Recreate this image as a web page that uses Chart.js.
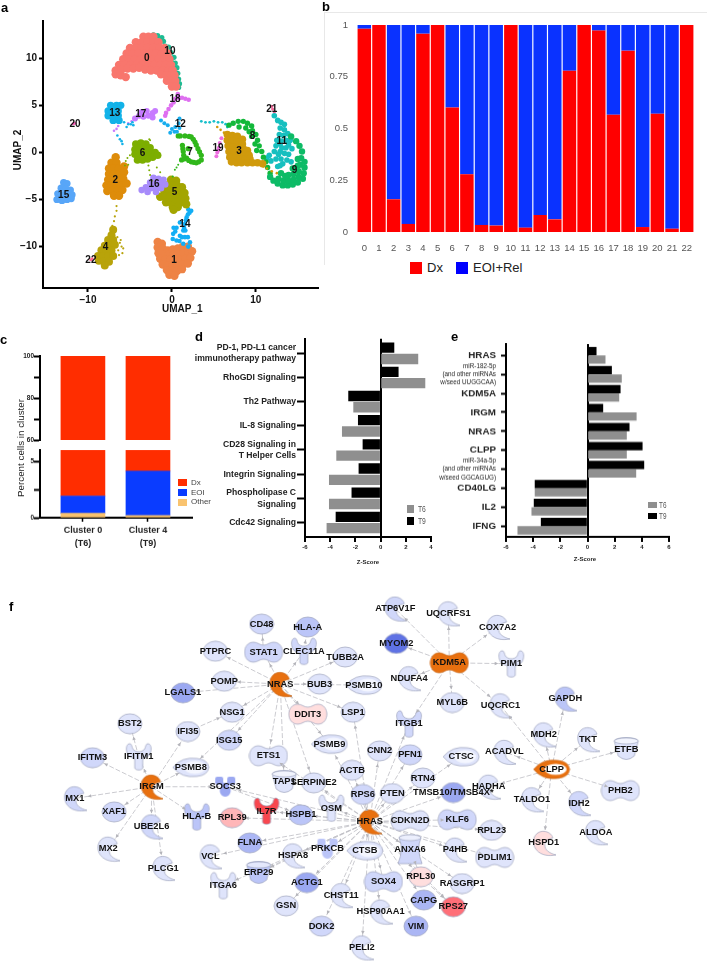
<!DOCTYPE html>
<html><head><meta charset="utf-8">
<script src="https://cdn.jsdelivr.net/npm/chart.js@4"></script>
<style>
html,body{margin:0;padding:0;background:#fff;width:707px;height:968px;overflow:hidden;font-family:"Liberation Sans",Arial,sans-serif}
#page{position:relative;width:707px;height:968px;overflow:hidden}
canvas{position:absolute;display:block}
.t{position:absolute;white-space:nowrap;line-height:1}
.s{position:absolute}
.p{font-weight:bold;font-size:13px;color:#000}
</style></head><body><div id="page"></div>
<script>
/* ---------- panel a : UMAP ---------- */
const umapLabels=[['0',-3,10],['10',-.24,10.7],['18',.36,5.6],['21',11.9,4.54],['13',-6.8,4.2],['17',-3.7,4.09],['12',1,3],['20',-11.55,3.04],['8',9.6,1.75],['11',13.1,1.19],['19',5.5,.42],['3',8,.17],['7',2.16,.07],['6',-3.49,-.14],['9',14.6,-1.85],['2',-6.75,-3],['16',-2.14,-3.43],['5',.32,-4.2],['15',-12.9,-4.6],['14',1.55,-7.6],['4',-7.9,-10.1],['22',-9.65,-11.4],['1',.24,-11.5]];
const c0=[[-3.4,12.3],[-2.8,12.3],[-2.2,12.3],[-4.3,11.7],[-3.6,11.7],[-2.9,11.7],[-2.2,11.7],[-1.6,11.7],[-5,11.1],[-4.3,11.1],[-3.6,11.1],[-2.9,11.1],[-2.2,11.1],[-1.5,11.1],[-.9,11.1],[-5.4,10.5],[-4.7,10.5],[-4,10.5],[-3.3,10.5],[-2.6,10.5],[-1.9,10.5],[-1.2,10.5],[-.5,10.5],[-5.8,9.9],[-5.1,9.9],[-4.4,9.9],[-3.7,9.9],[-3,9.9],[-2.3,9.9],[-1.6,9.9],[-.9,9.9],[-.3,9.9],[-6.3,9.3],[-5.6,9.3],[-4.9,9.3],[-4.2,9.3],[-3.5,9.3],[-2.8,9.3],[-2.1,9.3],[-1.4,9.3],[-.7,9.3],[-.1,9.3],[-6.7,8.7],[-6,8.8],[-5.3,8.9],[-4.6,8.9],[-3.9,9],[-3.2,8.8],[-2.5,8.7],[-1.8,8.7],[-1.1,8.7],[-.4,8.7],[.1,8.7],[-6.7,8.3],[-6.1,8.2],[-5.5,8],[-1.3,8.3],[-.7,8.2],[-.1,8.2],[.3,8.2],[-.6,7.6],[-.1,7.6],[.4,7.6],[0,7],[.5,7]];
const c10=[[-2.2,12.5],[-1.7,12.4],[-1.2,12.2],[-1.5,11.9],[-1,11.8],[-.8,11.3],[-.4,11.2],[-.4,10.7],[-.1,10.6],[0,10],[.25,10.1],[.1,9.5],[.4,9.5],[.3,9],[.6,9],[.4,8.5],[.7,8.4],[.5,8],[.8,7.8],[.6,7.4],[.9,7.3],[.8,6.9]];
const c18=[[2,5.6],[1.6,5.7],[1.2,5.8],[.8,5.8],[.4,5.7],[.7,6.2],[.2,5.3],[-.1,5],[-.4,4.6],[-.7,4.2],[-.8,3.9]];
const c13=[[-7.3,5],[-6.6,5],[-6.1,5],[-7.6,4.4],[-7,4.4],[-6.4,4.4],[-7.6,3.9],[-7,3.8],[-6.4,3.9],[-7,3.4],[-6.3,3.4]];
const t13=[[-5.7,3.2],[-5.2,3],[-4.9,3],[-4.6,2.9],[-4.7,3.2],[-6.5,1.8],[-6.2,1.4],[-6,1.2],[-5.9,.9],[-5.4,2.7]];
const c17=[[-4.4,3.6],[-3.9,3.9],[-3.6,4.3],[-3,4.4],[-3.4,3.8],[-2.8,3.9],[-2.3,4.2],[-2,4.4],[-2.3,3.7]];
const t17=[[-4.8,3.3],[-5.2,3.1],[-6.6,2.5],[-6.9,2.3],[-6.4,2.8]];
const c12=[[.9,3.6],[.8,3.1],[.9,2.6],[.4,2.7],[0,2.5],[.3,2.2],[-.2,2.1],[.6,2.2],[-.5,2.9],[-.9,3.1],[-1.3,3.4]];
const c7=[[.75,1.75],[1.55,1.75],[2.3,1.65],[2.75,1.1],[3.1,.4],[3.5,-.3],[3.5,-.8],[2.9,-1.1],[2.3,-1],[1.75,-.6],[1.15,-.8],[1.35,.1],[1.25,.75],[1.95,.4],[2.05,1.7],[1,1.75],[2.55,1.4],[2.9,.8],[3.3,.05],[3.2,-1],[2.6,-1.05],[2,-.85],[1.45,-.7],[1.3,.4],[1.4,-.3]];
const t7=[[.75,-1.3],[.35,-1.85],[.1,-2.55],[.55,-1.6]];
const c6=[[-4.3,.9],[-3.7,1],[-3.1,.9],[-4.4,.3],[-3.8,.4],[-3.2,.4],[-2.6,.5],[-4.4,-.2],[-3.8,-.2],[-3.2,-.2],[-2.6,-.1],[-2,0],[-4.1,-.8],[-3.5,-.8],[-2.9,-.7],[-2.3,-.5],[-1.7,-.3]];
const t6=[[-5,-.3],[-5.3,-.6],[-5.5,-.9],[-5.6,-1.4],[-5.2,-1.3],[-2.6,1.3],[-2.7,1.4],[-1.6,-.2],[-1.5,-.3],[-2.8,-1.4],[-2.7,-1.9],[-2.6,-2.4],[-2.4,-3],[-1.8,-1.6],[-1.4,-2.1]];
const c2=[[-6.7,-.5],[-7.2,-1.1],[-6.6,-1.1],[-7.5,-1.7],[-6.9,-1.7],[-6.3,-1.7],[-5.7,-1.5],[-7.5,-2.3],[-6.9,-2.3],[-6.3,-2.3],[-5.7,-2.1],[-7.6,-2.9],[-7,-2.9],[-6.4,-2.9],[-5.8,-2.8],[-7.8,-3.5],[-7.2,-3.5],[-6.6,-3.5],[-6,-3.5],[-5.4,-3.3],[-7.7,-4.1],[-7.1,-4.1],[-6.5,-4.1],[-5.9,-4],[-6.9,-4.6],[-6.3,-4.6]];
const c15=[[-12.9,-3.2],[-12.5,-3.3],[-13.2,-3.8],[-12.6,-3.9],[-12.1,-4],[-13.6,-4.4],[-13,-4.5],[-12.4,-4.5],[-11.9,-4.5],[-13.7,-5],[-13.1,-5.1],[-12.5,-5],[-12,-4.9]];
const c16=[[-2.2,-2.7],[-1.6,-2.8],[-1,-2.9],[-2.6,-3.2],[-2,-3.3],[-1.4,-3.3],[-.8,-3.4],[-3.1,-3.7],[-2.5,-3.8],[-1.9,-3.8],[-1.3,-3.8],[-3.6,-4],[-2.9,-4.2],[-1.9,-4.2]];
const c5=[[-.1,-2.9],[.5,-3],[-.6,-3.5],[0,-3.5],[.6,-3.5],[1.2,-3.7],[-.9,-4.1],[-.3,-4.1],[.3,-4.1],[.9,-4.1],[1.5,-4.3],[-1.4,-4.7],[-.8,-4.7],[-.2,-4.7],[.4,-4.7],[1,-4.7],[1.6,-4.9],[-.7,-5.3],[-.1,-5.3],[.5,-5.3],[1.1,-5.3],[1.7,-5.5],[.1,-5.8],[.7,-5.8],[.2,-6.1]];
const c14=[[1.95,-6.05],[2.1,-6.4],[1.75,-6.9],[1.55,-7.6],[1.35,-8.3],[.55,-8],[.15,-8.65],[.95,-8.85],[1.55,-9],[.55,-9.35],[2.15,-9.55],[1.35,-9.7],[1.95,-10],[.2,-8],[2.3,-6.2],[.95,-7.45],[1.6,-8.3],[.9,-9.4],[1.9,-9],[1.9,-6.6],[1.65,-7.2],[1.45,-8],[.4,-8.4],[.1,-9.2],[1.2,-9]];
const c1=[[-1.7,-9.5],[-1.2,-9.7],[-1.7,-10.1],[-1.1,-10.2],[-.5,-10.4],[.1,-10.3],[.7,-10.2],[1.3,-10],[1.9,-10],[-1.6,-10.7],[-1,-10.8],[-.4,-10.9],[.2,-10.9],[.8,-10.8],[1.4,-10.7],[2,-10.6],[2.4,-10.5],[-1.4,-11.3],[-.8,-11.4],[-.2,-11.4],[.4,-11.4],[1,-11.4],[1.6,-11.3],[2.2,-11.2],[-1.1,-11.9],[-.5,-12],[.1,-12],[.7,-12],[1.3,-11.9],[1.9,-11.8],[-.6,-12.5],[0,-12.6],[.6,-12.6],[1.2,-12.4],[-.3,-13],[.3,-13.1]];
const c4=[[-7,-8.2],[-7.2,-8.8],[-7.6,-9.3],[-7,-9.3],[-8,-9.9],[-7.4,-9.9],[-6.8,-9.8],[-8.4,-10.4],[-7.8,-10.5],[-7.2,-10.4],[-8.8,-11],[-8.2,-11],[-7.6,-11],[-7,-11],[-8.7,-11.5],[-8.1,-11.6],[-7.5,-11.6],[-8,-12]];
const t4=[[-6.6,-5.7],[-6.6,-6.2],[-6.8,-6.8],[-6.9,-7.3],[-7.1,-7.8],[-6.5,-9],[-6.2,-9.6],[-6,-10],[-5.8,-10.2],[-5.9,-10.7],[-6.3,-10.9],[-6.1,-9.3],[-6.4,-10.4]];
const c3=[[6.6,1.9],[7.2,1.8],[7.8,1.7],[8.4,1.4],[6.6,1.3],[7.2,1.2],[7.8,1.1],[8.4,.9],[6.7,.7],[7.3,.6],[7.9,.5],[8.5,.4],[9,.2],[6.8,.1],[7.4,0],[8,-.1],[8.6,-.2],[9.2,-.3],[6.9,-.5],[7.5,-.6],[8.1,-.7],[8.7,-.7],[9.3,-.7],[7.1,-1],[7.7,-1.1],[8.3,-1.1],[9,-1.1],[9.6,-1.1],[10.2,-1.1],[10.8,-1.2]];
const t3=[[5.4,2.7],[5.8,2.4],[6.2,2.1],[10.9,-1.5],[11.3,-1.7],[11.9,-2],[12.5,-2.2]];
const c8=[[6.8,2.9],[7.3,3.1],[7.9,3.3],[8.5,3.3],[9,3.1],[9.5,2.8],[8,2.7],[8.8,2.6],[9.6,2.3],[10,1.9],[9.5,1.7],[10.2,1.3],[10.4,.7],[9.9,.9],[10.7,.1],[10.9,-.5],[11.2,-1],[11.4,-1.6],[11.7,-2.2],[9.2,2.2],[10.1,.2]];
const c9=[[11.7,-2.6],[12.1,-3],[12.6,-3.3],[13.2,-3.5],[13.8,-3.5],[14.4,-3.4],[15,-3.2],[15.6,-2.8],[12.7,-2.8],[13.3,-3],[13.9,-3],[14.5,-2.9],[15.1,-2.6],[15.7,-2.2],[13.9,-2.4],[14.5,-2.3],[15.1,-2],[15.8,-1.6],[14.4,-1.7],[15,-1.4],[15.8,-1],[15.4,-.6],[15.5,.1],[15.2,.7],[14.8,1.2],[14.2,1.7],[13,-2.2],[13.5,-2.5],[15.3,-1.3],[15,-.7]];
const c11=[[12.2,3.9],[12.6,3.4],[13,3.2],[13.4,3],[12.9,2.6],[13.4,2.4],[12.8,1.9],[13.3,1.8],[13.8,2],[12.5,1.3],[13,1.2],[13.6,1.3],[14.1,1.3],[12.4,.7],[13.1,.5],[13.6,.5],[14.3,.4],[13.4,-.1],[13.9,-.2],[12.2,.1],[11.6,-.3],[11.3,-.6],[13.7,-.8],[14.2,-1],[12.4,-.7],[11.8,-.9],[12.6,-1.5],[12.9,.1],[12.7,-.2],[13,-.7],[13.2,-1.2],[13.9,.8],[12.9,-1.4],[12.9,.9]];
const t11=[[3.5,3.3],[4,3.2],[4.5,3.2],[5,3.3],[5.5,3.2],[6,3.2],[6.4,3],[6.6,2.7]];
const c19=[[5.9,1.5],[5.7,1],[5.6,.5],[5.4,0],[5.3,-.4],[5.5,.2]];
const c20=[[-11.75,3.05],[-11.6,3.1]];
const c21=[[12,4.6],[12.2,4.3],[11.9,4.9]];
const c22=[[-9.65,-11.4],[-9.5,-11.3]];
const umapGroups=[[c13,'#12B2E8',3.7],[t13,'#12B2E8',1.3],[c0,'#F8766D',4.2],[c10,'#1DBB93',2.6],[c18,'#DE6FF0',2.3],[c17,'#C77CFF',3],[t17,'#C77CFF',1.3],[c12,'#17ADEE',2],[c7,'#30B71B',2.6],[t7,'#30B71B',1],[c6,'#7CAE00',3.8],[t6,'#7CAE00',1],[c2,'#DE8C0A',4.2],[c15,'#58A6F8',3.6],[c16,'#A78BFA',3.3],[c5,'#A3A500',4.2],[c14,'#12AEF5',2.3],[c1,'#EE8345',4.2],[c4,'#B8A30A',4],[t4,'#B8A30A',1.1],[c3,'#D09A0C',3.8],[t3,'#D09A0C',1.3],[c9,'#0DBB66',3.2],[c8,'#12B83A',2.7],[c11,'#17BFBF',2.8],[t11,'#17BFCB',1.4],[c19,'#EE6EE0',2],[c20,'#FF62BC',1.6],[c21,'#F0699A',1.6],[c22,'#FF6C91',1.6]];
const umapXTicks=[-10,0,10], umapYTicks=[-10,-5,0,5,10];

/* ---------- panel b ---------- */
const clusters=['0','1','2','3','4','5','6','7','8','9','10','11','12','13','14','15','16','17','18','19','20','21','22'];
const dxShare=[.982,1,.158,.039,.958,1,.602,.279,.034,.031,1,.021,.082,.061,.779,1,.973,.566,.876,.024,.571,.016,1];
const relShare=[.018,0,.842,.961,.042,0,.398,.721,.966,.969,0,.979,.918,.939,.221,0,.027,.434,.124,.976,.429,.984,0];
const shareTicks=[0,.25,.5,.75,1];

/* ---------- panel c ---------- */
const cCategories=[['Cluster 0','(T6)'],['Cluster 4','(T9)']];
const cOther=[.4,.2], cEOI=[1.53,3.94], cDx=[98.07,95.86];

/* ---------- panel d ---------- */
const dPathways=[['PD-1, PD-L1 cancer','immunotherapy pathway'],'RhoGDI Signaling','Th2 Pathway','IL-8 Signaling',['CD28 Signaling in','T Helper Cells'],'Integrin Signaling',['Phospholipase C','Signaling'],'Cdc42 Signaling'];
const dT9=[1.06,1.4,-2.54,-1.77,-1.4,-1.72,-2.28,-3.54];
const dT6=[2.96,3.52,-2.14,-3.04,-3.49,-4.07,-4.07,-4.26];
const dXTicks=[-6,-4,-2,0,2,4];

/* ---------- panel e ---------- */
const eRegulators=['HRAS',['miR-182-5p','(and other miRNAs','w/seed UUGGCAA)'],'KDM5A','IRGM','NRAS','CLPP',['miR-34a-5p','(and other miRNAs','w/seed GGCAGUG)'],'CD40LG','IL2','IFNG'];
const eT9=[.64,1.77,2.41,1.13,3.07,4.03,4.15,-3.86,-3.93,-3.41];
const eT6=[1.3,2.5,2.31,3.59,2.87,2.87,3.56,-3.86,-4.1,-5.13];
const eXTicks=[-6,-4,-2,0,2,4,6];

/* ---------- panel f : network ---------- */
const netNodes=[['CD48',260,619,'e','l'],['HLA-A',307,622,'e','m'],['STAT1',262,648,'p','l'],['CLEC11A',303,647,'y','l'],['TUBB2A',345,653,'e','p'],['PTPRC',213,647,'e','p'],['POMP',222,678,'e','p'],['NRAS',279,681,'c','o'],['BUB3',319,681,'e','p'],['PSMB10',364,682,'n','p'],['LGALS1',180,690,'e','d'],['NSG1',230,710,'e','p'],['DDIT3',307,712,'p','k'],['LSP1',353,710,'e','p'],['BST2',126,722,'e','p'],['IFI35',185,730,'e','p'],['ISG15',227,739,'e','l'],['IFITM3',88,757,'e','l'],['IFITM1',135,756,'y','p'],['ETS1',267,755,'p','p'],['PSMB9',329,743,'n','p'],['ACTB',352,770,'e','p'],['PSMB8',188,767,'n','p'],['IRGM',148,787,'c','o'],['SOCS3',223,787,'x','d'],['TAP1',283,782,'u','p'],['SERPINE2',313,783,'e','p'],['RPS6',363,795,'e','l'],['OSM',331,809,'y','p'],['MX1',70,799,'c','l'],['XAF1',110,813,'e','l'],['UBE2L6',148,828,'c','l'],['HLA-B',194,818,'y','m'],['RPL39',230,819,'e','r'],['IL7R',265,812,'y','I'],['HSPB1',300,816,'e','m'],['HRAS',370,823,'c','o'],['FLNA',248,845,'e','f'],['PRKCB',327,851,'x','m'],['MX2',104,851,'c','p'],['VCL',208,859,'c','p'],['HSPA8',292,858,'c','p'],['CTSB',365,853,'n','p'],['PLCG1',160,871,'c','p'],['ERP29',257,876,'u','m'],['ITGA6',221,889,'y','p'],['ACTG1',306,886,'e','d'],['CHST11',341,899,'c','p'],['GSN',285,910,'e','p'],['HSP90AA1',381,916,'c','p'],['DOK2',321,931,'e','l'],['PELI2',362,953,'c','p'],['ATP6V1F',396,603,'c','l'],['UQCRFS1',450,608,'c','p'],['COX7A2',500,622,'c','p'],['MYOM2',397,639,'e','D'],['KDM5A',451,659,'p','o'],['PIM1',514,660,'y','p'],['NDUFA4',410,675,'c','p'],['MYL6B',454,700,'e','p'],['UQCRC1',503,703,'c','p'],['GAPDH',569,696,'c','m'],['ITGB1',410,722,'y','l'],['MDH2',547,733,'c','p'],['TKT',592,738,'c','p'],['ETFB',631,748,'u','p'],['CNN2',380,750,'e','p'],['PFN1',411,754,'e','l'],['CTSC',463,756,'n','p'],['ACADVL',507,751,'c','p'],['CLPP',555,769,'n','o'],['RTN4',424,778,'e','p'],['HADHA',491,787,'c','p'],['PTEN',393,794,'e','p'],['TMSB10/TMSB4X*',455,793,'e','d'],['TALDO1',535,800,'c','p'],['PHB2',625,791,'p','p'],['IDH2',583,804,'c','l'],['CDKN2D',411,822,'p','p'],['KLF6',459,821,'p','l'],['RPL23',494,832,'e','p'],['ANXA6',411,852,'h','l'],['P4HB',457,852,'c','p'],['PDLIM1',497,860,'p','p'],['ALDOA',600,834,'c','p'],['HSPD1',547,845,'c','k'],['SOX4',384,885,'p','l'],['RPL30',422,880,'e','k'],['RASGRP1',464,887,'e','p'],['CAPG',425,904,'e','f'],['RPS27',455,911,'e','R'],['VIM',417,931,'e','f']];
const netEdges={
 NRAS:['STAT1','CLEC11A','TUBB2A','PTPRC','POMP','BUB3','PSMB10','LGALS1','NSG1','DDIT3','LSP1','ISG15','ETS1','PSMB9','TAP1','SERPINE2','PSMB8'],
 STAT1:['CD48'],CLEC11A:['HLA-A'],IFI35:['NSG1'],IFITM1:['BST2'],
 IRGM:['IFITM3','IFITM1','IFI35','PSMB8','SOCS3','HLA-B','MX1','XAF1','UBE2L6','MX2','PLCG1'],
 KDM5A:['ATP6V1F','UQCRFS1','COX7A2','MYOM2','PIM1','NDUFA4','MYL6B','UQCRC1','ITGB1'],
 CLPP:['GAPDH','UQCRC1','MDH2','TKT','ETFB','ACADVL','HADHA','TALDO1','IDH2','PHB2','HSPD1'],
 HRAS:['SOCS3','IL7R','HSPB1','RPL39','OSM','SERPINE2','ETS1','ACTB','PSMB9','RPS6','LSP1','CNN2','PFN1','ITGB1','RTN4','PTEN','CTSC','TMSB10/TMSB4X*','CDKN2D','KLF6','RPL23','P4HB','PDLIM1','ANXA6','RPL30','RASGRP1','CAPG','RPS27','VIM','SOX4','CTSB','HSP90AA1','PELI2','DOK2','GSN','CHST11','ACTG1','PRKCB','HSPA8','FLNA','VCL','ERP29','ITGA6'],
 ANXA6:['RPL30'],RPL30:['RPS27'],HSPA8:['ERP29'],SOCS3:['HSPB1']
};
const tintColors={p:'#DFE4FB',l:'#D0D7FA',m:'#BBC5F8',f:'#ABB6F4',d:'#9BA8F1',D:'#5F72E4',k:'#FFDEDE',r:'#FFB6B8',R:'#FF6F78',I:'#F8474F',o:'#E8700F'};

/* ---------- helpers ---------- */
Chart.defaults.font.family='"Liberation Sans",Arial,sans-serif';
Chart.defaults.animation=false;
const page=document.getElementById('page');
function text(s,x,y,css){const d=document.createElement('div');d.className='t';d.textContent=s;d.style.left=x+'px';d.style.top=y+'px';d.style.cssText+=';'+(css||'');page.appendChild(d);return d;}
function swatch(x,y,w,h,c){const d=document.createElement('div');d.className='s';d.style.cssText=`left:${x}px;top:${y}px;width:${w}px;height:${h}px;background:${c}`;page.appendChild(d);}
function plotChart(area,m,cfg){
 const c=document.createElement('canvas');
 const W=area[2]-area[0]+m[0]+m[2],H=area[3]-area[1]+m[1]+m[3];
 c.width=W;c.height=H;c.style.cssText=`left:${area[0]-m[0]}px;top:${area[1]-m[1]}px;width:${W}px;height:${H}px`;
 page.appendChild(c);
 cfg.options=cfg.options||{};
 cfg.options.responsive=false;cfg.options.maintainAspectRatio=false;cfg.options.animation=false;
 cfg.options.layout={padding:{left:0,top:m[1],right:m[2],bottom:0}};
 cfg.options.plugins=Object.assign({legend:{display:false},tooltip:{enabled:false}},cfg.options.plugins||{});
 const sc=cfg.options.scales||{};
 if(sc.y&&sc.y.display!==false)sc.y.afterFit=s=>{s.width=m[0]};
 if(sc.x&&sc.x.display!==false)sc.x.afterFit=s=>{s.height=m[3]};
 return new Chart(c,cfg);
}
const axisGrid=(len,w)=>({drawOnChartArea:false,offset:false,tickLength:len,tickWidth:w,tickColor:'#000'});
const spine=w=>({display:true,color:'#000',width:w});
const setTicks=v=>s=>{s.ticks=v.map(value=>({value}))};
const pts=a=>a.map(p=>({x:p[0],y:p[1]}));
const dataLabels={id:'dataLabels',afterDatasetsDraw(ch,_a,o){const g=ch.ctx;g.save();g.font=o.font;g.fillStyle=o.color;g.textAlign='center';g.textBaseline='middle';
 o.items.forEach(i=>g.fillText(i[0],ch.scales.x.getPixelForValue(i[1]),ch.scales.y.getPixelForValue(i[2])));g.restore();}};
const edgeArrows={id:'edgeArrows',afterDatasetsDraw(ch){const g=ch.ctx,X=ch.scales.x,Y=ch.scales.y;g.save();g.fillStyle='#B4B4BA';
 Object.keys(netEdges).forEach(a=>netEdges[a].forEach(b=>{const p=nodeByName[a],q=nodeByName[b],ax=X.getPixelForValue(p[1]),ay=Y.getPixelForValue(p[2]),bx=X.getPixelForValue(q[1]),by=Y.getPixelForValue(q[2]),t=Math.atan2(by-ay,bx-ax),r=13,hx=bx-r*Math.cos(t),hy=by-r*Math.sin(t);
  g.beginPath();g.moveTo(hx,hy);g.lineTo(hx-4*Math.cos(t-.45),hy-4*Math.sin(t-.45));g.lineTo(hx-4*Math.cos(t+.45),hy-4*Math.sin(t+.45));g.closePath();g.fill();}));g.restore();}};

/* ---------- a ---------- */
plotChart([43,17,319,288],[30,4,4,26],{type:'scatter',
 data:{datasets:umapGroups.map(g=>({data:pts(g[0]),backgroundColor:g[1],pointRadius:g[2],borderWidth:0}))},
 plugins:[dataLabels],
 options:{plugins:{dataLabels:{items:umapLabels,font:'bold 10px "Liberation Sans"',color:'#111'}},
 scales:{x:{type:'linear',min:-15.36,max:17.5,afterBuildTicks:setTicks(umapXTicks),grid:axisGrid(4,2),border:spine(2),
   ticks:{padding:2,color:'#111',font:{size:10,weight:'bold'},callback:v=>String(v).replace('-','\u2212'),maxRotation:0}},
  y:{min:-14.4,max:13.96,afterBuildTicks:setTicks(umapYTicks),grid:axisGrid(4,2),border:spine(2),
   ticks:{padding:2,color:'#111',font:{size:10,weight:'bold'},callback:v=>String(v).replace('-','\u2212')}}}}});
text('UMAP_1',162,304,'font-size:10px;font-weight:bold;color:#111');
text('UMAP_2',18,150,'font-size:10px;font-weight:bold;color:#111;transform:translate(-50%,-50%) rotate(-90deg)');

/* ---------- b ---------- */
const frame=document.createElement('div');frame.className='s';frame.style.cssText='left:324px;top:12px;width:383px;height:252px;border-left:1px solid #e8e8e8;border-top:1px solid #e8e8e8';page.appendChild(frame);
plotChart([356.5,25,694,232],[30,8,8,28],{type:'bar',
 data:{labels:clusters,datasets:[{label:'Dx',data:dxShare,backgroundColor:'#FF0000'},{label:'EOI+Rel',data:relShare,backgroundColor:'#0A32FF'}]},
 options:{datasets:{bar:{categoryPercentage:1,barPercentage:.92}},scales:{
  x:{stacked:true,grid:{display:false},border:{display:false},ticks:{color:'#555',font:{size:9.5},padding:3,autoSkip:false,maxRotation:0}},
  y:{stacked:true,min:0,max:1,afterBuildTicks:setTicks(shareTicks),grid:{display:false},border:{display:false},ticks:{color:'#555',font:{size:9.5},padding:1,callback:v=>String(v)}}}}});
swatch(410,262,12,12,'#FF0000');text('Dx',427,261,'font-size:13px;color:#222');
swatch(456,262,12,12,'#0000FF');text('EOI+Rel',473,261,'font-size:13px;color:#222');

/* ---------- c ---------- */
function cData(){const xy=a=>a.map((y,i)=>({x:i,y}));
 return {datasets:[{label:'Other',data:xy(cOther),backgroundColor:'#F9C36F'},{label:'EOI',data:xy(cEOI),backgroundColor:'#0A3CFF'},{label:'Dx',data:xy(cDx),backgroundColor:'#FF2D00'}]};}
const cX=show=>({type:'linear',offset:false,stacked:true,display:show,min:-.66,max:1.677,afterBuildTicks:setTicks([0,1]),grid:axisGrid(4,1.5),border:spine(2),
 ticks:{padding:2,color:'#222',font:{size:9,weight:'bold',lineHeight:1.45},callback:v=>cCategories[v],maxRotation:0}});
plotChart([40,356,192,444],[24,6,4,0],{type:'bar',data:cData(),
 options:{datasets:{bar:{barThickness:44}},scales:{x:cX(false),y:{stacked:true,min:60,max:100,afterBuildTicks:setTicks([60,70,80,90,100]),grid:axisGrid(6,2),border:spine(2),
  ticks:{padding:0,color:'#222',font:{size:6.5,weight:'bold'},callback:v=>v%20===0?String(v):''}}}}});
plotChart([40,447,192,517.5],[24,1,4,32],{type:'bar',data:cData(),
 options:{datasets:{bar:{barThickness:44}},scales:{x:cX(true),y:{stacked:true,min:0,max:6.03,afterBuildTicks:setTicks([0,2.5,5]),grid:axisGrid(6,2),border:spine(2),
  ticks:{padding:0,color:'#222',font:{size:6.5,weight:'bold'},callback:v=>v===2.5?'':String(v)}}}}});
text('Percent cells in cluster',21,448,'font-size:9.8px;color:#222;transform:translate(-50%,-50%) rotate(-90deg)');
swatch(178,479,9,7,'#FF2D00');text('Dx',191,479,'font-size:8px;color:#444');
swatch(178,489,9,7,'#0A3CFF');text('EOI',191,489,'font-size:8px;color:#444');
swatch(178,498.5,9,7,'#F9C36F');text('Other',191,498,'font-size:8px;color:#444');

/* ---------- d, e ---------- */
function hbars(area,margin,cats,t9,t6,xmin,xmax,xticks,ymin,ymax,thick,size,tickFont,tickLen,padding){
 const xy=a=>a.map((x,i)=>({x,y:i}));
 return plotChart(area,margin,{type:'bar',
 data:{datasets:[{label:'T9',data:xy(t9),backgroundColor:'#000'},{label:'T6',data:xy(t6),backgroundColor:'#8F8F8F'}]},
 options:{indexAxis:'y',datasets:{bar:{barThickness:thick,maxBarThickness:size}},scales:{
  x:{type:'linear',min:xmin,max:xmax,afterBuildTicks:setTicks(xticks),
    grid:{drawOnChartArea:true,tickLength:5,tickWidth:2,tickColor:'#000',lineWidth:2,color:c=>c.tick&&c.tick.value===0?'#000':'rgba(0,0,0,0)'},
    border:spine(2),ticks:{padding:2,color:'#222',font:{size:6,weight:'bold'},maxRotation:0}},
  y:{type:'linear',offset:false,reverse:true,min:ymin,max:ymax,afterBuildTicks:setTicks(cats.map((_,i)=>i)),grid:axisGrid(tickLen,2),border:spine(2),
    ticks:{padding:padding,autoSkip:false,color:'#222',font:tickFont,callback:v=>cats[v]}}}}});
}
hbars([305,338,431,537],[114,6,8,30],dPathways,dT9,dT6,-6,4,dXTicks,-.6,7.6,11.3,9.7,{size:8.6,weight:'bold',lineHeight:1.35},8,1);
text('Z-Score',368,559,'font-size:6px;font-weight:bold;color:#222;transform:translateX(-50%)');
swatch(407,505,7,8,'#8F8F8F');text('T6',418,505,'font-size:9px;color:#555;transform:scaleX(.75);transform-origin:left');
swatch(407,517,7,8,'#000');text('T9',418,517,'font-size:9px;color:#555;transform:scaleX(.75);transform-origin:left');
hbars([505.7,339,668.7,536.7],[70,6,10,30],eRegulators,eT9,eT6,-6,6,eXTicks,-.6,9.566,8.4,7.6,
 c=>Array.isArray(eRegulators[c.tick&&c.tick.value])?{size:6.3,lineHeight:1.32}:{size:9.8,weight:'bold'},5,5);
text('Z-Score',585,556,'font-size:6px;font-weight:bold;color:#222;transform:translateX(-50%)');
swatch(648,502,9,6,'#8F8F8F');text('T6',659,501,'font-size:8.5px;color:#555;transform:scaleX(.75);transform-origin:left');
swatch(648,513,9,5.5,'#000');text('T9',659,512,'font-size:8.5px;color:#555;transform:scaleX(.75);transform-origin:left');

/* ---------- f ---------- */
const shapeSize={e:[26,22],c:[24,28],p:[40,24],y:[28,30],u:[28,26],h:[28,32],n:[38,22],x:[24,22]};
const shapePath={
 e:g=>{g.beginPath();g.ellipse(13,11,12,10,0,0,7);},
 c:g=>{g.beginPath();g.moveTo(21,9);g.bezierCurveTo(19,1,5,-1,2,10);g.bezierCurveTo(0,20,9,29,24,26);g.bezierCurveTo(17,24,13,21,13,16);g.bezierCurveTo(13,12,16,10,21,9);g.closePath();},
 p:g=>{g.beginPath();g.moveTo(10,2);g.bezierCurveTo(14,2,16,5,20,5);g.bezierCurveTo(24,5,26,2,30,2);g.bezierCurveTo(36,2,39,7,39,12);g.bezierCurveTo(39,17,36,22,30,22);g.bezierCurveTo(26,22,24,19,20,19);g.bezierCurveTo(16,19,14,22,10,22);g.bezierCurveTo(4,22,1,17,1,12);g.bezierCurveTo(1,7,4,2,10,2);g.closePath();},
 y:g=>{g.beginPath();g.moveTo(5,2);g.bezierCurveTo(2,2,1,6,2,10);g.bezierCurveTo(3,15,7,16,10,17);g.lineTo(10,26);g.bezierCurveTo(10,29,18,29,18,26);g.lineTo(18,17);g.bezierCurveTo(21,16,25,15,26,10);g.bezierCurveTo(27,6,26,2,23,2);g.bezierCurveTo(21,2,21,5,20,7);g.bezierCurveTo(19,9,16,10,14,10);g.bezierCurveTo(12,10,9,9,8,7);g.bezierCurveTo(7,5,7,2,5,2);g.closePath();},
 u:g=>{g.beginPath();g.ellipse(14,5,12,3.5,0,Math.PI,0);g.lineTo(22,20);g.quadraticCurveTo(14,27,6,20);g.closePath();},
 h:g=>{g.beginPath();g.ellipse(14,4,11,3,0,Math.PI,0);g.quadraticCurveTo(20,15,26,30);g.lineTo(2,30);g.quadraticCurveTo(8,15,3,4);g.closePath();},
 n:g=>{g.beginPath();g.moveTo(1,11);g.quadraticCurveTo(10,0,25,2);g.quadraticCurveTo(36,3,37,11);g.quadraticCurveTo(36,19,25,20);g.quadraticCurveTo(10,22,1,11);g.closePath();},
 x:g=>{g.beginPath();g.roundRect(2,1,8,8,2);g.roundRect(14,1,8,8,2);g.roundRect(8,7,8,8,2);g.ellipse(12,15,5.5,6,0,0,7);}
};
function nodeImage(kind,tint){const z=shapeSize[kind],c=document.createElement('canvas');c.width=z[0];c.height=z[1];const g=c.getContext('2d');
 shapePath[kind](g);g.fillStyle=tintColors[tint];g.fill();
 if(kind!=='x'){g.strokeStyle=tint==='o'?'#C8620E':'#9CA2BC';g.lineWidth=.7;g.stroke();}
 if(kind==='n'){g.beginPath();g.ellipse(23,11,11,tint==='o'?5.5:6.5,0,0,7);g.fillStyle=tint==='o'?'#fff':'#F4F6FF';g.fill();}
 if(kind==='u'||kind==='h'){g.beginPath();g.ellipse(14,kind==='u'?5:4,kind==='u'?12:11,3,0,0,7);g.fillStyle='rgba(255,255,255,.6)';g.fill();g.strokeStyle='#9CA2BC';g.lineWidth=.6;g.stroke();}
 return c;}
const nodeByName=Object.fromEntries(netNodes.map(n=>[n[0],n]));
const edgeData=[];Object.keys(netEdges).forEach(a=>netEdges[a].forEach(b=>{const p=nodeByName[a],q=nodeByName[b];edgeData.push({x:p[1],y:p[2]},{x:q[1],y:q[2]},{x:NaN,y:NaN});}));
plotChart([0,590,707,968],[0,0,0,0],{type:'scatter',
 data:{datasets:[
  {order:0,data:netNodes.map(n=>({x:n[1],y:n[2]})),pointStyle:netNodes.map(n=>nodeImage(n[3],n[4])),pointRadius:5,showLine:false},
  {order:1,data:edgeData,showLine:true,spanGaps:false,pointRadius:0,borderColor:'#BEBEC4',borderWidth:.8,borderDash:[5,2]}]},
 plugins:[edgeArrows,dataLabels],
 options:{plugins:{dataLabels:{items:netNodes.map(n=>[n[0],n[1],n[2]]),font:'bold 9.3px "Liberation Sans"',color:'#111'}},
 scales:{x:{type:'linear',display:false,min:0,max:707},y:{type:'linear',display:false,reverse:true,min:590,max:968}}}});

/* ---------- panel letters ---------- */
text('a',1,1,'').className='t p';
text('b',322,0,'').className='t p';
text('c',0,333,'').className='t p';
text('d',195,330,'').className='t p';
text('e',451,330,'').className='t p';
text('f',9,600,'').className='t p';
</script></body></html>
